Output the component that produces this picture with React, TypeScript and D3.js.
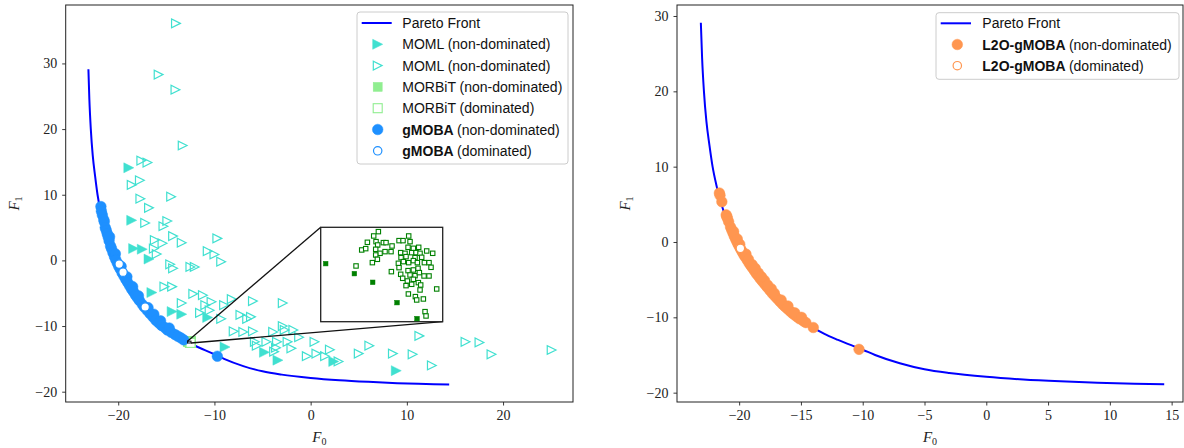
import React, { useEffect, useRef } from 'react';
import * as d3 from 'd3';

type Pt = [number, number];

// Pareto front
const frontX = [-23.1, -23.0, -22.85, -22.65, -22.4, -22.15, -21.85, -21.5, -21.1, -20.6, -20.0, -19.3, -18.5, -17.6, -16.6, -15.5, -14.3, -13.1, -12.0, -10.0, -9.0, -7.0, -5.0, -3.0, 0.0, 3.0, 6.0, 9.0, 12.0, 14.4];
const frontY = [29.1, 24.5, 20.0, 16.0, 12.8, 10.0, 7.6, 5.4, 3.3, 1.2, -0.7, -2.6, -4.6, -6.5, -8.3, -9.8, -11.1, -12.2, -13.0, -14.3, -15.0, -16.1, -16.9, -17.4, -17.9, -18.25, -18.5, -18.7, -18.82, -18.9];

const momlNonDom: Pt[] = [
  [-18.9, 14.1], [-18.6, 6.1], [-18.4, 1.8], [-17.5, 1.7], [-16.8, 0.2], [-16.5, -4.9], [-14.4, -7.8],
  [-13.4, -8.2], [-10.7, -8.7], [-8.9, -13.2], [-4.8, -14.0], [-3.4, -15.2], [2.4, -15.4], [8.9, -16.8],
];
const momlDom: Pt[] = [
  [-14.0, 36.1], [-15.8, 28.3], [-14.05, 26.0], [-13.3, 17.5], [-17.6, 15.2], [-16.96, 14.9], [-17.75, 12.2],
  [-18.6, 11.5], [-17.7, 9.4], [-14.5, 9.7], [-16.8, 8.0], [-17.2, 5.7], [-14.9, 6.0], [-15.3, 5.2], [-16.2, 3.1],
  [-14.3, 3.7], [-13.4, 2.7], [-15.4, 2.6], [-16.3, 1.8], [-16.0, 0.96], [-9.7, 3.35], [-10.7, 1.4], [-10.0, 0.9],
  [-9.3, -0.2], [-14.6, -0.6], [-14.3, -1.2], [-12.5, -1.0], [-12.05, -1.0], [-15.2, -4.0], [-14.4, -4.0],
  [-13.4, -6.5], [-12.2, -5.1], [-11.2, -5.3], [-10.3, -6.3], [-10.95, -6.8], [-11.5, -8.0], [-10.5, -7.6],
  [-9.3, -8.9], [-9.0, -6.8], [-8.2, -5.9], [-6.0, -6.2], [-2.9, -6.5], [-7.3, -8.3], [-6.6, -8.9], [-6.2, -8.6],
  [-8.0, -10.8], [-7.0, -10.9], [-6.0, -10.8], [-3.9, -10.9], [-2.9, -10.0], [-2.7, -10.6], [-1.8, -10.6],
  [-1.2, -11.7], [0.4, -12.4], [-5.8, -12.4], [-5.6, -13.0], [-4.6, -12.4], [-3.5, -12.4], [-3.6, -13.3],
  [-2.4, -12.4], [-2.0, -13.4], [-3.8, -13.9], [-0.4, -14.6], [0.6, -14.2], [1.5, -14.6], [2.0, -13.6],
  [2.9, -15.4], [5.0, -14.2], [6.1, -13.0], [8.55, -14.2], [10.6, -14.3], [11.3, -11.5], [12.6, -16.0],
  [16.1, -12.4], [17.55, -12.5], [18.8, -14.3], [25.05, -13.65],
];

const morbitNonDom: Pt[] = [
  [-12.785, -12.409], [-12.699, -12.439], [-12.644, -12.465], [-12.571, -12.526], [-12.511, -12.574],
];
const morbitDom: Pt[] = [
  [-12.627, -12.313], [-12.641, -12.326], [-12.66, -12.345], [-12.677, -12.368], [-12.665, -12.364],
  [-12.634, -12.343], [-12.629, -12.353], [-12.612, -12.346], [-12.604, -12.346], [-12.586, -12.356],
  [-12.635, -12.366], [-12.622, -12.378], [-12.607, -12.373], [-12.589, -12.373], [-12.635, -12.383],
  [-12.645, -12.406], [-12.63, -12.396], [-12.694, -12.416], [-12.588, -12.433], [-12.565, -12.34],
  [-12.553, -12.34], [-12.536, -12.326], [-12.532, -12.343], [-12.538, -12.36], [-12.522, -12.363],
  [-12.506, -12.36], [-12.482, -12.371], [-12.464, -12.378], [-12.56, -12.376], [-12.547, -12.378],
  [-12.527, -12.376], [-12.514, -12.376], [-12.502, -12.378], [-12.559, -12.391], [-12.544, -12.388],
  [-12.517, -12.391], [-12.497, -12.39], [-12.552, -12.403], [-12.536, -12.406], [-12.522, -12.4],
  [-12.51, -12.406], [-12.489, -12.406], [-12.475, -12.406], [-12.567, -12.408], [-12.565, -12.421],
  [-12.469, -12.42], [-12.538, -12.43], [-12.522, -12.428], [-12.508, -12.423], [-12.56, -12.441],
  [-12.554, -12.453], [-12.532, -12.443], [-12.517, -12.445], [-12.504, -12.436], [-12.49, -12.446],
  [-12.475, -12.446], [-12.54, -12.461], [-12.522, -12.456], [-12.507, -12.466], [-12.5, -12.473],
  [-12.544, -12.475], [-12.527, -12.471], [-12.502, -12.488], [-12.537, -12.5], [-12.516, -12.508],
  [-12.512, -12.518], [-12.492, -12.515], [-12.452, -12.485], [-12.487, -12.553], [-12.484, -12.566],
];

const gmobaNonDom: Pt[] = [
  [-21.8, 8.2], [-21.75, 7.5], [-21.65, 6.9], [-21.5, 6.2], [-21.45, 5.9], [-21.35, 5.0], [-21.25, 4.6],
  [-21.15, 4.1], [-21.05, 3.6], [-20.95, 3.0], [-20.9, 3.6], [-20.8, 2.2], [-20.7, 1.8], [-20.55, 1.2],
  [-20.4, 0.6], [-20.3, 1.0], [-20.25, 0.1], [-20.1, -0.4], [-19.95, -0.9], [-19.8, -1.3], [-19.7, -0.9],
  [-19.6, -1.9], [-19.4, -2.4], [-19.2, -2.9], [-19.1, -2.5], [-19.0, -3.4], [-18.8, -3.9], [-18.6, -4.4],
  [-18.5, -4.0], [-18.4, -4.8], [-18.2, -5.3], [-18.0, -5.7], [-17.9, -5.4], [-17.8, -6.1], [-17.5, -6.7],
  [-17.3, -7.1], [-17.0, -7.6], [-16.9, -7.2], [-16.7, -8.1], [-16.4, -8.6], [-16.3, -8.2], [-16.1, -9.1],
  [-15.8, -9.5], [-15.6, -9.2], [-15.5, -9.9], [-15.2, -10.2], [-14.9, -10.6], [-14.7, -10.3], [-14.5, -10.95],
  [-14.1, -11.3], [-13.8, -11.55], [-13.5, -11.8], [-13.2, -12.1], [-9.7, -14.6],
];
const gmobaDom: Pt[] = [[-19.9, -0.56], [-19.5, -1.8], [-17.2, -7.1]];

const l2oNonDom: Pt[] = [
  [-21.6, 6.5], [-21.55, 6.2], [-21.4, 5.35], [-21.05, 3.6], [-21.0, 3.4], [-20.95, 3.15], [-20.85, 2.7],
  [-20.7, 2.0], [-20.6, 1.6], [-20.5, 1.2], [-20.4, 0.8], [-20.3, 0.45], [-20.2, 0.1], [-20.1, -0.25],
  [-20.0, -0.55], [-19.9, -0.85], [-19.8, -1.15], [-19.7, -1.45], [-19.6, -1.75], [-19.5, -2.0],
  [-19.35, -2.4], [-19.2, -2.8], [-19.05, -3.15], [-18.9, -3.5], [-18.75, -3.85], [-18.6, -4.2],
  [-18.45, -4.5], [-18.3, -4.85], [-18.15, -5.15], [-18.0, -5.45], [-17.85, -5.75], [-17.7, -6.05],
  [-17.5, -6.45], [-17.3, -6.85], [-17.1, -7.2], [-16.9, -7.55], [-16.7, -7.9], [-16.5, -8.25],
  [-16.3, -8.55], [-16.1, -8.85], [-15.9, -9.15], [-15.7, -9.45], [-15.5, -9.7], [-15.3, -9.95],
  [-15.1, -10.2], [-14.8, -10.5], [-14.6, -10.7], [-14.0, -11.35], [-10.3, -14.25],
  [-20.45, 1.4], [-19.95, -0.3], [-19.45, -1.6], [-18.95, -3.0], [-18.45, -4.1], [-17.95, -5.1], [-17.4, -6.2],
  [-20.15, 0.4], [-19.25, -2.3], [-18.7, -3.5], [-18.2, -4.6], [-17.7, -5.7], [-17.15, -6.8], [-16.6, -7.7],
  [-16.05, -8.5], [-15.5, -9.4], [-14.95, -10.0],
];
const l2oDom: Pt[] = [[-19.9, -0.84]];

const leftXTicks = [-20, -10, 0, 10, 20];
const leftYTicks = [-20, -10, 0, 10, 20, 30];
const rightXTicks = [-20, -15, -10, -5, 0, 5, 10, 15];
const rightYTicks = [-20, -10, 0, 10, 20, 30];

const C_FRONT = '#0000ff';
const C_MOML = '#40e0d0';
const C_MORBIT = '#90ee90';
const C_INSET = '#008000';
const C_GMOBA = '#1e90ff';
const C_L2O = '#ff9650';

const SERIF = '"Liberation Serif", "DejaVu Serif", serif';
const SANS = '"Liberation Sans", Arial, sans-serif';

const App = () => {
  const svgRef = useRef<SVGSVGElement>(null);

  useEffect(() => {
    const svg = d3.select(svgRef.current);
    svg.selectAll('*').remove();

    const tri = (s: number) => `M${s},0L${-s},${-s}L${-s},${s}Z`;

    const drawTris = (g: any, pts: Pt[], x: any, y: any, filled: boolean) => {
      g.append('g').selectAll('path').data(pts).join('path')
        .attr('d', tri(filled ? 5 : 4.4))
        .attr('transform', (d: Pt) => `translate(${x(d[0])},${y(d[1])})`)
        .attr('fill', filled ? C_MOML : 'none')
        .attr('stroke', C_MOML)
        .attr('stroke-width', filled ? 0.5 : 1.2);
    };
    const drawDots = (g: any, pts: Pt[], x: any, y: any, color: string, filled: boolean) => {
      g.append('g').selectAll('circle').data(pts).join('circle')
        .attr('cx', (d: Pt) => x(d[0])).attr('cy', (d: Pt) => y(d[1]))
        .attr('r', filled ? 5.3 : 4.2)
        .attr('fill', filled ? color : '#fff')
        .attr('stroke', color)
        .attr('stroke-width', filled ? 0.5 : 1.2);
    };
    const drawSquares = (g: any, pts: Pt[], x: any, y: any, color: string, filled: boolean, s: number) => {
      g.append('g').selectAll('rect').data(pts).join('rect')
        .attr('x', (d: Pt) => x(d[0]) - s / 2).attr('y', (d: Pt) => y(d[1]) - s / 2)
        .attr('width', s).attr('height', s)
        .attr('fill', filled ? color : '#fff')
        .attr('stroke', color)
        .attr('stroke-width', filled ? 0.5 : 1.1);
    };

    const frontPts: Pt[] = frontX.map((v, i) => [v, frontY[i]]);

    const drawAxes = (g: any, x: any, y: any, xt: number[], yt: number[], l: number, r: number, t: number, b: number) => {
      const ax = g.append('g').attr('transform', `translate(0,${b})`)
        .call(d3.axisBottom(x).tickValues(xt).tickSize(3.5).tickPadding(5).tickFormat(d3.format('d')));
      const ay = g.append('g').attr('transform', `translate(${l},0)`)
        .call(d3.axisLeft(y).tickValues(yt).tickSize(3.5).tickPadding(5).tickFormat(d3.format('d')));
      [ax, ay].forEach((a) => {
        a.select('.domain').remove();
        a.selectAll('line').attr('stroke', '#222').attr('stroke-width', 0.9);
        a.selectAll('text').attr('font-family', SERIF).attr('font-size', 14).attr('fill', '#222');
      });
      g.append('rect').attr('x', l).attr('y', t).attr('width', r - l).attr('height', b - t)
        .attr('fill', 'none').attr('stroke', '#222').attr('stroke-width', 1);
      // axis labels
      const fx = g.append('text').attr('x', (l + r) / 2).attr('y', 442).attr('text-anchor', 'middle')
        .attr('font-family', SERIF).attr('font-size', 15).attr('fill', '#222');
      fx.append('tspan').attr('font-style', 'italic').text('F');
      fx.append('tspan').attr('font-size', 10).attr('dy', 3).text('0');
      const fy = g.append('text').attr('transform', `translate(${l - 47},${(t + b) / 2}) rotate(-90)`)
        .attr('text-anchor', 'middle').attr('font-family', SERIF).attr('font-size', 15).attr('fill', '#222');
      fy.append('tspan').attr('font-style', 'italic').text('F');
      fy.append('tspan').attr('font-size', 10).attr('dy', 3).text('1');
    };

    const line = (x: any, y: any) => d3.line<Pt>().x((d) => x(d[0])).y((d) => y(d[1])).curve(d3.curveMonotoneX);

    const legendText = (g: any, x: number, y: number, bold: string, rest: string) => {
      const t = g.append('text').attr('x', x).attr('y', y + 5).attr('font-family', SANS)
        .attr('font-size', 14).attr('fill', '#111');
      if (bold) t.append('tspan').attr('font-weight', 'bold').text(bold + ' ');
      t.append('tspan').text(rest);
    };

    // ---------- Left panel ----------
    const L = { l: 65.7, r: 573, t: 5, b: 402 };
    const xL = d3.scaleLinear().domain([-25.46, 27.27]).range([L.l, L.r]);
    const yL = d3.scaleLinear().domain([-21.57, 38.9]).range([L.b, L.t]);
    const gl = svg.append('g');
    const marks = gl.append('g');
    marks.append('path').datum(frontPts).attr('d', line(xL, yL)).attr('fill', 'none')
      .attr('stroke', C_FRONT).attr('stroke-width', 2);
    drawTris(marks, momlNonDom, xL, yL, true);
    drawTris(marks, momlDom, xL, yL, false);
    drawSquares(marks, morbitNonDom, xL, yL, C_MORBIT, true, 9);
    drawSquares(marks, morbitDom, xL, yL, C_MORBIT, false, 9);
    drawDots(marks, gmobaNonDom, xL, yL, C_GMOBA, true);
    drawDots(marks, gmobaDom, xL, yL, C_GMOBA, false);

    // inset
    const I = { l: 320.7, r: 442.7, t: 227.3, b: 321.7 };
    const xI = d3.scaleLinear().domain([-12.8, -12.434]).range([I.l, I.r]);
    const yI = d3.scaleLinear().domain([-12.5832, -12.3]).range([I.b, I.t]);
    const [x0, x1] = xI.domain();
    const [y0, y1] = yI.domain();
    gl.append('rect').attr('x', xL(x0)).attr('y', yL(y1)).attr('width', xL(x1) - xL(x0))
      .attr('height', yL(y0) - yL(y1)).attr('fill', 'none').attr('stroke', '#111').attr('stroke-width', 1);
    gl.append('line').attr('x1', xL(x0)).attr('y1', yL(y1)).attr('x2', I.l).attr('y2', I.t)
      .attr('stroke', '#111').attr('stroke-width', 1.3);
    gl.append('line').attr('x1', xL(x1)).attr('y1', yL(y0)).attr('x2', I.r).attr('y2', I.b)
      .attr('stroke', '#111').attr('stroke-width', 1.3);
    gl.append('rect').attr('x', I.l).attr('y', I.t).attr('width', I.r - I.l).attr('height', I.b - I.t)
      .attr('fill', '#fff').attr('stroke', '#222').attr('stroke-width', 1.3);
    drawSquares(gl, morbitNonDom, xI, yI, C_INSET, true, 4.6);
    drawSquares(gl, morbitDom, xI, yI, C_INSET, false, 4.4);

    drawAxes(gl, xL, yL, leftXTicks, leftYTicks, L.l, L.r, L.t, L.b);

    // left legend
    const lg = gl.append('g');
    lg.append('rect').attr('x', 357).attr('y', 12).attr('width', 211).attr('height', 152).attr('rx', 3)
      .attr('fill', '#fff').attr('fill-opacity', 0.8).attr('stroke', '#ccc');
    const rowsL = [23, 44.3, 65.6, 86.9, 108.2, 129.5, 150.8];
    const mx = 377.7, tx = 402.3;
    lg.append('line').attr('x1', 361.7).attr('x2', 391.7).attr('y1', rowsL[0]).attr('y2', rowsL[0])
      .attr('stroke', C_FRONT).attr('stroke-width', 2);
    legendText(lg, tx, rowsL[0], '', 'Pareto Front');
    const one = (px: number) => d3.scaleLinear().domain([0, 1]).range([px, px + 1]);
    drawTris(lg, [[0, 0]], one(mx), one(rowsL[1]), true);
    legendText(lg, tx, rowsL[1], '', 'MOML (non-dominated)');
    drawTris(lg, [[0, 0]], one(mx), one(rowsL[2]), false);
    legendText(lg, tx, rowsL[2], '', 'MOML (non-dominated)');
    drawSquares(lg, [[0, 0]], one(mx), one(rowsL[3]), C_MORBIT, true, 9);
    legendText(lg, tx, rowsL[3], '', 'MORBiT (non-dominated)');
    drawSquares(lg, [[0, 0]], one(mx), one(rowsL[4]), C_MORBIT, false, 9);
    legendText(lg, tx, rowsL[4], '', 'MORBiT (dominated)');
    drawDots(lg, [[0, 0]], one(mx), one(rowsL[5]), C_GMOBA, true);
    legendText(lg, tx, rowsL[5], 'gMOBA', '(non-dominated)');
    drawDots(lg, [[0, 0]], one(mx), one(rowsL[6]), C_GMOBA, false);
    legendText(lg, tx, rowsL[6], 'gMOBA', '(dominated)');

    // ---------- Right panel ----------
    const R = { l: 677, r: 1183, t: 5, b: 402 };
    const xR = d3.scaleLinear().domain([-25.03, 15.92]).range([R.l, R.r]);
    const yR = d3.scaleLinear().domain([-21.24, 31.46]).range([R.b, R.t]);
    const gr = svg.append('g');
    gr.append('path').datum(frontPts).attr('d', line(xR, yR)).attr('fill', 'none')
      .attr('stroke', C_FRONT).attr('stroke-width', 2);
    drawDots(gr, l2oNonDom, xR, yR, C_L2O, true);
    drawDots(gr, l2oDom, xR, yR, C_L2O, false);
    drawAxes(gr, xR, yR, rightXTicks, rightYTicks, R.l, R.r, R.t, R.b);

    const rg = gr.append('g');
    rg.append('rect').attr('x', 936).attr('y', 12.7).attr('width', 243).attr('height', 66.6).attr('rx', 3)
      .attr('fill', '#fff').attr('fill-opacity', 0.8).attr('stroke', '#ccc');
    const rowsR = [23.3, 44.5, 65.7];
    rg.append('line').attr('x1', 940.7).attr('x2', 971).attr('y1', rowsR[0]).attr('y2', rowsR[0])
      .attr('stroke', C_FRONT).attr('stroke-width', 2);
    legendText(rg, 982.3, rowsR[0], '', 'Pareto Front');
    drawDots(rg, [[0, 0]], one(957.3), one(rowsR[1]), C_L2O, true);
    legendText(rg, 982.3, rowsR[1], 'L2O-gMOBA', '(non-dominated)');
    drawDots(rg, [[0, 0]], one(957.3), one(rowsR[2]), C_L2O, false);
    legendText(rg, 982.3, rowsR[2], 'L2O-gMOBA', '(dominated)');
  }, []);

  return (
    <svg ref={svgRef} width={1184} height={448}
      style={{ position: 'absolute', left: 0, top: 0, background: '#fff' }} />
  );
};

export default App;
